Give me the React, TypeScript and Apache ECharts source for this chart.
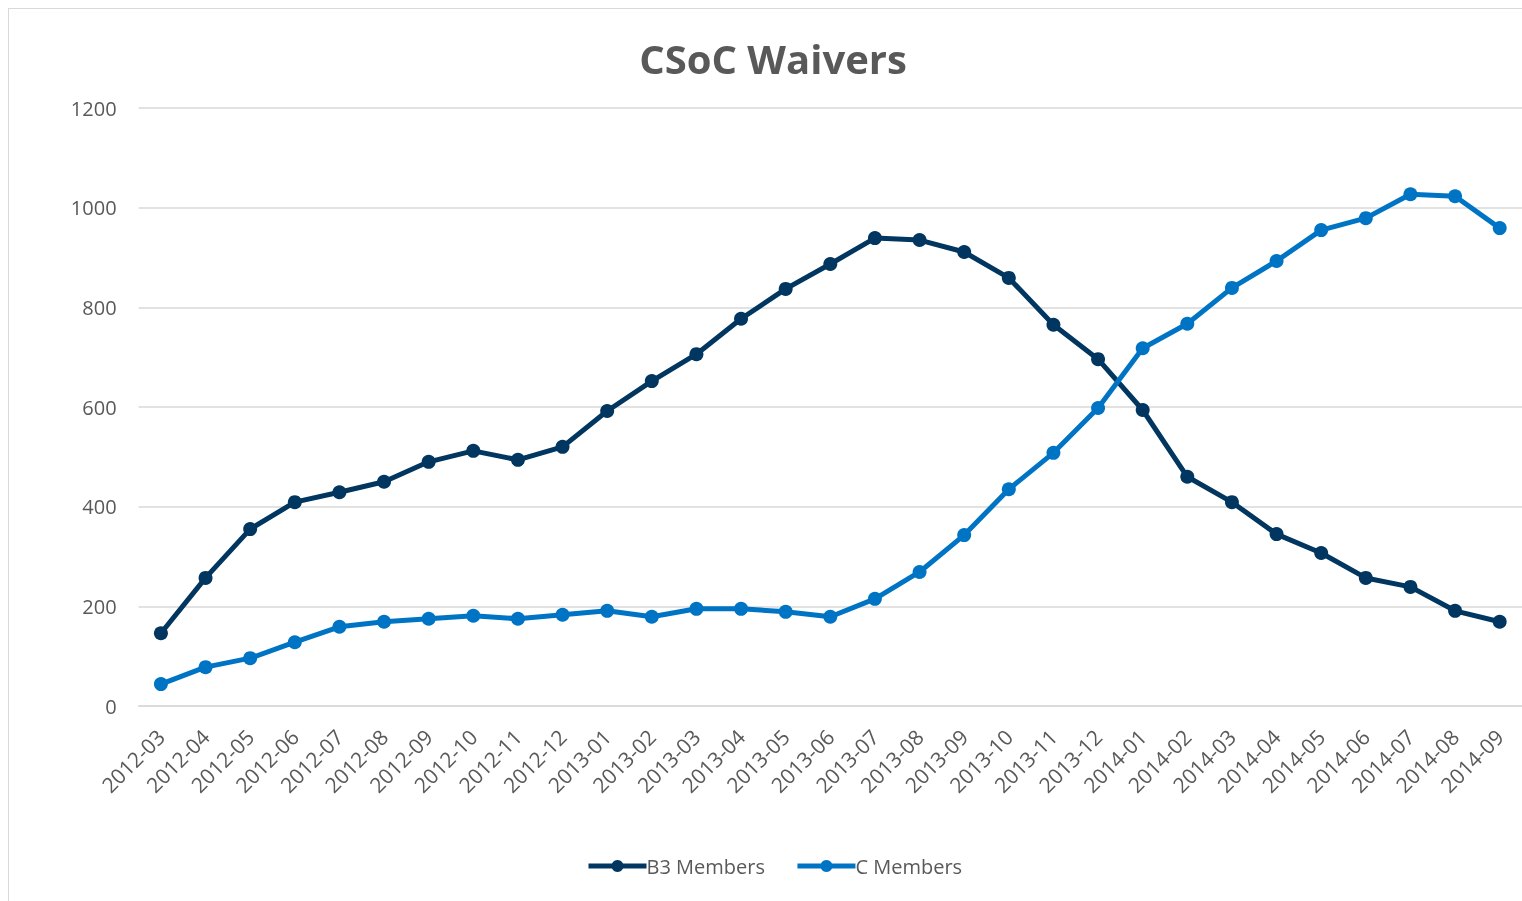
import React, { useEffect, useRef } from "react";
import * as echarts from "echarts";

const categories = [
  "2012-03", "2012-04", "2012-05", "2012-06", "2012-07", "2012-08", "2012-09", "2012-10", "2012-11", "2012-12",
  "2013-01", "2013-02", "2013-03", "2013-04", "2013-05", "2013-06", "2013-07", "2013-08", "2013-09", "2013-10",
  "2013-11", "2013-12", "2014-01", "2014-02", "2014-03", "2014-04", "2014-05", "2014-06", "2014-07", "2014-08",
  "2014-09",
];

const b3Members = [
  146, 257, 355, 409, 429, 450, 490, 512, 494, 520,
  592, 652, 706, 777, 837, 887, 939, 935, 911, 859,
  765, 696, 594, 460, 409, 345, 307, 257, 239, 191,
  169,
];

const cMembers = [
  44, 78, 96, 128, 159, 169, 175, 181, 175, 183,
  191, 179, 195, 195, 189, 179, 215, 269, 343, 435,
  508, 598, 718, 767, 839, 893, 955, 979, 1027, 1023,
  959,
];

const yTicks = { min: 0, max: 1200, interval: 200 };

const FONT = "'Open Sans', 'Noto Sans', sans-serif";
const TEXT = "#595959";
const DARK = "#00365f";
const BLUE = "#0074c4";

export default function App() {
  const ref = useRef<HTMLDivElement>(null);

  useEffect(() => {
    if (!ref.current) return;
    const chart = echarts.init(ref.current, undefined, { renderer: "svg" });
    chart.setOption({
      animation: false,
      textStyle: { fontFamily: FONT },
      title: {
        text: "CSoC Waivers",
        left: 768,
        top: 33,
        textAlign: "center",
        textStyle: { fontFamily: FONT, fontSize: 40, fontWeight: "bold", color: TEXT },
      },
      legend: {
        top: 851,
        left: 581,
        itemWidth: 58,
        itemHeight: 15,
        itemGap: 30,
        lineStyle: { width: 5 },
        textStyle: { fontFamily: FONT, fontSize: 20, color: TEXT, padding: [0, 0, 0, -5] },
        data: ["B3 Members", "C Members"],
      },
      grid: { left: 138.6, right: -2.4, top: 108, bottom: 195, containLabel: false },
      xAxis: {
        type: "category",
        data: categories,
        boundaryGap: true,
        axisLine: { show: true, lineStyle: { color: "#d9d9d9", width: 1.5 } },
        axisTick: { show: false },
        axisLabel: {
          rotate: 45,
          interval: 0,
          margin: 27,
          fontFamily: FONT,
          fontSize: 21,
          color: TEXT,
        },
      },
      yAxis: {
        type: "value",
        min: yTicks.min,
        max: yTicks.max,
        interval: yTicks.interval,
        axisLine: { show: false },
        axisTick: { show: false },
        splitLine: { lineStyle: { color: "#d9d9d9", width: 1.5 } },
        axisLabel: {
          margin: 22,
          fontFamily: FONT,
          fontSize: 20,
          color: TEXT,
          formatter: (v: number) => String(v),
        },
      },
      series: [
        {
          name: "B3 Members",
          type: "line",
          data: b3Members,
          symbol: "circle",
          symbolSize: 14,
          color: DARK,
          lineStyle: { width: 5, color: DARK },
          itemStyle: { color: DARK },
        },
        {
          name: "C Members",
          type: "line",
          data: cMembers,
          symbol: "circle",
          symbolSize: 14,
          color: BLUE,
          lineStyle: { width: 5, color: BLUE },
          itemStyle: { color: BLUE },
        },
      ],
    });
    return () => chart.dispose();
  }, []);

  return (
    <div>
      <div
        style={{
          position: "fixed",
          left: 8,
          top: 8,
          width: 1600,
          height: 1000,
          borderTop: "1.5px solid #d9d9d9",
          borderLeft: "1.5px solid #d9d9d9",
          boxSizing: "border-box",
        }}
      />
      <div ref={ref} style={{ position: "fixed", left: 0, top: 0, width: 1522, height: 901 }} />
    </div>
  );
}
